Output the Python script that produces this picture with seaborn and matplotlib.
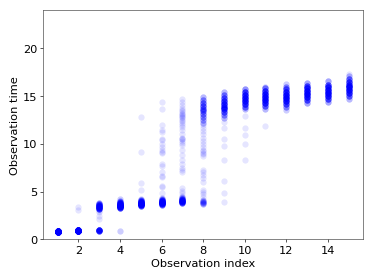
import matplotlib
matplotlib.use("Agg")
import matplotlib.pyplot as plt
import seaborn as sns
import numpy as np
import pandas as pd

# Observation times for each observation index (value repeated by how often it shows up)
t1 = [0.75] * 20 + [0.8] * 30 + [0.85] * 30 + [0.9] * 20
t2 = [0.85] * 25 + [0.9] * 30 + [0.95] * 25 + [1.0] * 18 + [3.1, 3.4]
t3 = ([0.9] * 10 + [0.95] * 12 + [1.0] * 8 + [2.15, 2.4, 2.9, 3.0]
      + [3.2] * 10 + [3.3] * 10 + [3.4] * 12 + [3.5] * 12 + [3.6] * 10 + [3.7] * 8 + [3.8] * 4)
t4 = ([0.92] * 2 + [3.3] * 10 + [3.4] * 14 + [3.5] * 16 + [3.6] * 16 + [3.7] * 16
      + [3.8] * 12 + [3.9] * 8 + [4.0] * 4 + [4.2] * 2)
t5 = ([3.5] * 8 + [3.6] * 14 + [3.7] * 18 + [3.8] * 18 + [3.9] * 16 + [4.0] * 10
      + [4.1] * 6 + [4.2] * 2 + [5.2, 5.85, 9.1, 12.8])
t6 = ([3.6] * 6 + [3.7] * 12 + [3.8] * 16 + [3.9] * 16 + [4.0] * 14 + [4.1] * 10
      + [4.2] * 4 + [4.3] * 2
      + [4.9, 5.5, 5.6, 6.5, 6.6, 7.0, 7.7, 7.9, 9.0, 9.1, 9.4, 9.7, 10.0, 10.4,
         10.5, 11.2, 11.5, 12.0, 13.6, 14.4])
t7 = ([3.8] * 8 + [3.9] * 12 + [4.0] * 14 + [4.1] * 12 + [4.2] * 8 + [4.3] * 4 + [4.4] * 2
      + [4.5, 4.9, 5.1, 5.4, 7.0, 7.3, 7.5, 7.9, 8.3, 8.8, 9.4, 9.9, 10.1, 10.3, 10.5,
         10.5, 10.6, 11.0, 11.4, 11.8, 12.0, 12.2, 12.4, 12.5, 12.7, 12.8, 12.9, 13.0,
         13.1, 13.2, 13.4, 13.5, 13.8, 14.1, 14.4, 14.7])
t8 = ([3.7] * 3 + [3.8] * 4 + [3.9] * 4 + [4.0] * 3 + [4.1] * 2
      + [4.4, 4.7, 5.0, 5.2, 6.0, 6.4, 6.7, 7.0, 7.3, 8.7, 8.9, 9.0, 9.2, 9.4, 9.7,
         10.0, 10.3, 10.6, 11.0, 11.3, 11.7, 12.0]
      + [12.2] * 3 + [12.5] * 4 + [12.8] * 5 + [13.1] * 6 + [13.4] * 7 + [13.7] * 8
      + [14.0] * 8 + [14.3] * 7 + [14.6] * 5 + [14.9] * 3)
t9 = ([3.9, 4.8, 6.1, 8.3, 9.8, 10.5, 11.7, 12.3]
      + [12.7] * 3 + [13.0] * 5 + [13.3] * 9 + [13.6] * 12 + [13.9] * 14 + [14.2] * 14
      + [14.5] * 12 + [14.8] * 9 + [15.1] * 6 + [15.4] * 3)
t10 = ([8.35, 10.0, 10.9, 11.7, 12.9]
       + [13.6] * 3 + [13.9] * 7 + [14.2] * 13 + [14.5] * 17 + [14.8] * 17 + [15.1] * 15
       + [15.4] * 11 + [15.7] * 5)
t11 = ([11.85] + [13.7] * 3 + [14.0] * 8 + [14.3] * 14 + [14.6] * 18 + [14.9] * 18
       + [15.2] * 16 + [15.5] * 12 + [15.8] * 6 + [16.0] * 2)
t12 = ([13.5] * 2 + [13.9] * 5 + [14.2] * 10 + [14.5] * 16 + [14.8] * 19 + [15.1] * 18
       + [15.4] * 14 + [15.7] * 9 + [16.0] * 5 + [16.3] * 2)
t13 = ([14.3] * 4 + [14.6] * 10 + [14.9] * 16 + [15.2] * 20 + [15.5] * 18 + [15.8] * 14
       + [16.1] * 10 + [16.4] * 4)
t14 = ([14.4] * 4 + [14.7] * 10 + [15.0] * 16 + [15.3] * 20 + [15.6] * 18 + [15.9] * 14
       + [16.2] * 10 + [16.6] * 4)
t15 = ([14.7] * 3 + [15.0] * 8 + [15.3] * 14 + [15.6] * 18 + [15.9] * 18 + [16.2] * 15
       + [16.5] * 12 + [16.8] * 8 + [17.1] * 3 + [17.3] * 1)

times = [t1, t2, t3, t4, t5, t6, t7, t8, t9, t10, t11, t12, t13, t14, t15]
obs_index = list(range(1, 16))

df = pd.DataFrame({
    "index": np.repeat(obs_index, [len(t) for t in times]),
    "time": np.concatenate(times),
})

plt.rcParams["font.size"] = 14
plt.rcParams["axes.edgecolor"] = "#444444"
fig, ax = plt.subplots(figsize=(6.4, 4.8), dpi=58.44)
fig.subplots_adjust(left=0.115, right=0.971, bottom=0.145, top=0.962)

sns.scatterplot(data=df, x="index", y="time", color="blue", alpha=0.1,
                s=60, linewidth=0, ax=ax)

ax.set_ylim(0, 24)
ax.set_xticks([2, 4, 6, 8, 10, 12, 14])
ax.set_yticks([0, 5, 10, 15, 20])
ax.set_xlabel("Observation index")
ax.set_ylabel("Observation time")

plt.savefig("out.png", dpi=58.44)
